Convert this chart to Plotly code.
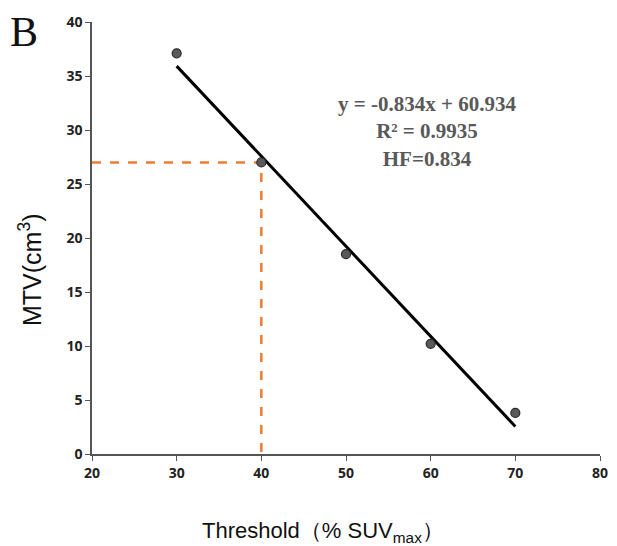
import plotly.graph_objects as go

thresholds = [30, 40, 50, 60, 70]
mtv = [37.1, 27.0, 18.5, 10.2, 3.8]
slope = -0.834
intercept = 60.934
fit_x = [30, 70]
fit_y = [slope * x + intercept for x in fit_x]
guide_x = [20, 40, 40]
guide_y = [27, 27, 0]
x_ticks = [20, 30, 40, 50, 60, 70, 80]
y_ticks = [0, 5, 10, 15, 20, 25, 30, 35, 40]

fig = go.Figure()
fig.add_trace(go.Scatter(x=guide_x, y=guide_y, mode="lines",
                         line=dict(color="#ED7D31", width=2.5, dash="dash"),
                         showlegend=False, hoverinfo="skip", cliponaxis=False))
fig.add_trace(go.Scatter(x=fit_x, y=fit_y, mode="lines",
                         line=dict(color="black", width=3),
                         showlegend=False))
fig.add_trace(go.Scatter(x=thresholds, y=mtv, mode="markers",
                         marker=dict(color="#5a5a5a", size=9,
                                     line=dict(color="#2a2a2a", width=1.2)),
                         showlegend=False))

tickfont = dict(size=14, family="Open Sans, sans-serif", weight="bold", color="#222")
fig.update_layout(
    width=609, height=538,
    margin=dict(l=84, r=17, t=14, b=92),
    plot_bgcolor="white", paper_bgcolor="white",
    font=dict(family="Liberation Sans, Arial, sans-serif", color="#222"),
    xaxis=dict(range=[20, 80], tickvals=x_ticks, showgrid=False, zeroline=False,
               showline=True, linecolor="#555", linewidth=1.5, automargin=False,
               ticks="outside", ticklen=5, tickcolor="#555", tickfont=tickfont),
    yaxis=dict(range=[0, 40], tickvals=y_ticks, showgrid=False, zeroline=False,
               showline=True, linecolor="#555", linewidth=1.5, automargin=False,
               ticks="outside", ticklen=5, tickcolor="#555", tickfont=tickfont),
)

fig.add_annotation(text="Threshold（% SUV<sub>max</sub>）", xref="paper", yref="paper",
                   x=0.455, y=-0.18, xanchor="center", yanchor="middle", showarrow=False,
                   font=dict(family="Liberation Sans, Arial, sans-serif", size=22, color="#111"))
fig.add_annotation(text="MTV(cm<sup>3</sup>)", xref="paper", yref="paper",
                   x=-0.122, y=0.426, xanchor="center", yanchor="middle", showarrow=False,
                   textangle=-90,
                   font=dict(family="Liberation Sans, Arial, sans-serif", size=25, color="#111"))
fig.add_annotation(text="y = -0.834x + 60.934<br>R² = 0.9935<br>HF=0.834",
                   xref="paper", yref="paper", x=0.66, y=0.843,
                   xanchor="center", yanchor="top", showarrow=False, align="center",
                   font=dict(family="Liberation Serif, Times New Roman, serif", size=21,
                             color="#595959", weight="bold"))
fig.add_annotation(text="B", xref="paper", yref="paper", x=-0.165, y=1.035,
                   xanchor="left", yanchor="top", showarrow=False,
                   font=dict(family="Liberation Serif, Times New Roman, serif", size=42, color="#111"))

fig.write_html("out.html")
